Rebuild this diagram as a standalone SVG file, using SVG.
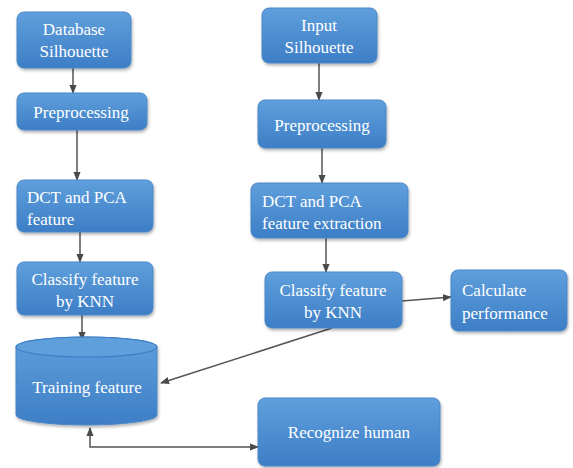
<svg xmlns="http://www.w3.org/2000/svg" width="573" height="468" viewBox="0 0 573 468">
<defs>
<linearGradient id="g" x1="0" y1="0" x2="0" y2="1">
<stop offset="0" stop-color="#5f9fdc"/>
<stop offset="1" stop-color="#3d7ec6"/>
</linearGradient>
<filter id="sh" x="-10%" y="-10%" width="130%" height="140%">
<feDropShadow dx="1" dy="2" stdDeviation="1.5" flood-color="#000" flood-opacity="0.3"/>
</filter>
<marker id="ah" viewBox="0 0 10 10" refX="9" refY="5" markerWidth="6" markerHeight="6" orient="auto-start-reverse">
<path d="M0,1 L10,5 L0,9 z" fill="#4a4a4a"/>
</marker>
</defs>
<style>
.box{fill:url(#g);stroke:#4a86c6;stroke-width:1;filter:url(#sh)}
.t{font-family:'Liberation Serif','Times New Roman',serif;font-size:17px;fill:#ffffff}
.c{text-anchor:middle}
.ln{fill:none;stroke:#555;stroke-width:1.5;marker-end:url(#ah)}
</style>
<rect width="573" height="468" fill="#ffffff"/>
<g id="connectors">
<line class="ln" x1="73" y1="68" x2="73" y2="93"/>
<line class="ln" x1="77" y1="130" x2="77" y2="180"/>
<line class="ln" x1="80" y1="232" x2="80" y2="262"/>
<line class="ln" x1="82" y1="315" x2="82" y2="340"/>
<line class="ln" x1="319" y1="63" x2="319" y2="100"/>
<line class="ln" x1="322" y1="148" x2="322" y2="183"/>
<line class="ln" x1="326" y1="238" x2="326" y2="272"/>
<line class="ln" x1="402" y1="301" x2="451" y2="297"/>
<line class="ln" x1="332" y1="328" x2="161" y2="383"/>
<path class="ln" d="M90,428 L90,447 L258,447" style="marker-start:url(#ah)"/>
</g>
<g id="db-silhouette">
<rect class="box" x="17" y="12" width="114" height="56" rx="7"/>
<text class="t c" x="74" y="35">Database</text>
<text class="t c" x="74" y="57">Silhouette</text>
</g>
<g id="preprocessing-left">
<rect class="box" x="17" y="93" width="130" height="37" rx="7"/>
<text class="t c" x="81" y="118">Preprocessing</text>
</g>
<g id="dct-left">
<rect class="box" x="17" y="180" width="136" height="52" rx="7"/>
<text class="t" x="27" y="203">DCT and PCA</text>
<text class="t" x="27" y="225">feature</text>
</g>
<g id="classify-left">
<rect class="box" x="17" y="262" width="136" height="53" rx="7"/>
<text class="t c" x="85" y="285">Classify feature</text>
<text class="t c" x="85" y="307">by KNN</text>
</g>
<g id="training-feature">
<path class="box" d="M16,347 L16,415 A70.5,10 0 0 0 157,415 L157,347 A70.5,10 0 0 0 16,347 z"/>
<ellipse cx="86.5" cy="347" rx="70.5" ry="10" fill="#5f9fdc" stroke="#3d7ec6" stroke-width="1.2"/>
<text class="t c" x="87" y="393">Training feature</text>
</g>
<g id="input-silhouette">
<rect class="box" x="262" y="8" width="115" height="55" rx="7"/>
<text class="t c" x="319" y="31">Input</text>
<text class="t c" x="319" y="53">Silhouette</text>
</g>
<g id="preprocessing-right">
<rect class="box" x="258" y="100" width="128" height="48" rx="7"/>
<text class="t c" x="322" y="131">Preprocessing</text>
</g>
<g id="dct-right">
<rect class="box" x="251" y="183" width="157" height="55" rx="7"/>
<text class="t" x="262" y="207">DCT and PCA</text>
<text class="t" x="262" y="229">feature extraction</text>
</g>
<g id="classify-right">
<rect class="box" x="265" y="272" width="137" height="56" rx="7"/>
<text class="t c" x="333" y="296">Classify feature</text>
<text class="t c" x="333" y="318">by KNN</text>
</g>
<g id="calculate-performance">
<rect class="box" x="451" y="270" width="116" height="61" rx="7"/>
<text class="t" x="462" y="296">Calculate</text>
<text class="t" x="462" y="319">performance</text>
</g>
<g id="recognize-human">
<rect class="box" x="258" y="398" width="182" height="68" rx="7"/>
<text class="t c" x="349" y="438">Recognize human</text>
</g>
</svg>
